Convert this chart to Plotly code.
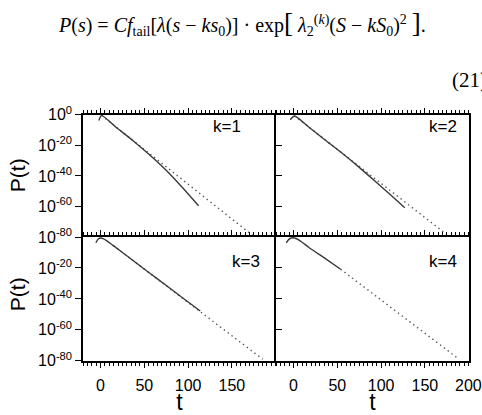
import plotly.graph_objects as go

# ---- data (t, log10 P) ----
t_k1 = [-1.9, 1.1, 18.0, 36.8, 55.6, 74.4, 93.2, 112.0]
logP_k1 = [-3.7, -0.4, -8.3, -16.8, -26.0, -36.0, -47.4, -59.5]
t_k1_fit = [1.1, 176.0]
logP_k1_fit = [-0.4, -80.0]

t_k2 = [-3.8, 1.1, 18.0, 36.8, 55.6, 74.4, 93.2, 112.0, 127.1]
logP_k2 = [-3.3, -0.8, -8.3, -16.8, -25.2, -34.1, -43.5, -53.0, -60.9]
t_k2_fit = [1.1, 177.8]
logP_k2_fit = [-0.8, -79.6]

t_k3 = [-5.3, -2.6, 0.0, 3.0, 6.8, 14.3, 36.8, 55.6, 74.4, 93.2, 113.9]
logP_k3 = [-3.7, -1.2, -0.6, -1.0, -2.3, -5.4, -15.0, -23.1, -31.0, -39.1, -47.8]
t_k3_fit = [14.3, 185.3]
logP_k3_fit = [-5.4, -79.0]

t_k4 = [-8.3, -5.3, -2.6, 1.1, 6.8, 18.0, 36.8, 53.8]
logP_k4 = [-3.7, -1.5, -0.6, -0.6, -2.1, -6.9, -14.1, -20.8]
t_k4_fit = [53.8, 189.1]
logP_k4_fit = [-20.8, -79.0]

panel_labels = ["k=1", "k=2", "k=3", "k=4"]
x_ticks = [0, 50, 100, 150, 200]
x_ticktext = ["0", "50", "100", "150", ""]
edge_tick_label = "200"
x_minor = list(range(-20, 201, 5))
y_exps_top = [0, -20, -40, -60, -80]
y_exps_bottom = [-20, -40, -60, -80]

W, H = 482, 415
def px(x):
    return x / W
def py(y):
    return 1 - y / H

xl = [px(83), px(276)]
xr = [px(276), px(469)]
yt = [py(237.5), py(109)]
yb = [py(367.5), py(237.5)]

solid_col = "#3a3a3a"
dot_col = "#555555"

fig = go.Figure()
series = [
    (t_k1, logP_k1, t_k1_fit, logP_k1_fit, "x", "y"),
    (t_k2, logP_k2, t_k2_fit, logP_k2_fit, "x2", "y2"),
    (t_k3, logP_k3, t_k3_fit, logP_k3_fit, "x3", "y3"),
    (t_k4, logP_k4, t_k4_fit, logP_k4_fit, "x4", "y4"),
]
for t, lp, tf, lpf, xa, ya in series:
    fig.add_trace(go.Scatter(x=tf, y=[10.0 ** v for v in lpf], mode="lines",
                             line=dict(color=dot_col, width=1.4, dash="1.4px,3.4px"),
                             xaxis=xa, yaxis=ya, hoverinfo="skip", cliponaxis=False))
    fig.add_trace(go.Scatter(x=t, y=[10.0 ** v for v in lp], mode="lines",
                             line=dict(color=solid_col, width=1.4, shape="spline", smoothing=0.6),
                             xaxis=xa, yaxis=ya, hoverinfo="skip", cliponaxis=False))

tickfont = dict(family="Liberation Sans, Arial", size=16, color="black")
XR = [-20, 200.4]

def xaxis(domain, anchor, side, labels, mirror, title=None):
    d = dict(domain=domain, anchor=anchor, side=side, range=XR,
             showline=True, linecolor="black", linewidth=1.5, mirror=mirror,
             ticks="outside", ticklen=5, tickwidth=1.2, tickcolor="black",
             tickmode="array", tickvals=x_ticks, ticktext=x_ticktext,
             showticklabels=labels, tickfont=tickfont, ticklabelstandoff=4,
             minor=dict(tickmode="array", tickvals=x_minor, ticks="outside",
                        ticklen=3, tickwidth=1, tickcolor="black", showgrid=False),
             showgrid=False, zeroline=False, fixedrange=True)
    if title:
        d["title"] = dict(text=title, standoff=0,
                          font=dict(family="Liberation Sans, Arial", size=23, color="black"))
    return d

def yaxis(domain, anchor, exps, labels, ticks, mirror):
    return dict(domain=domain, anchor=anchor, type="log", range=[-80, 0],
                showline=True, linecolor="black", linewidth=1.5, mirror=mirror,
                ticks=ticks, ticklen=6, tickwidth=1.2, tickcolor="black",
                tickmode="array", tickvals=[10.0 ** e for e in exps],
                ticktext=["10<sup>%d</sup>" % e for e in exps],
                showticklabels=labels, tickfont=tickfont,
                showgrid=False, zeroline=False, fixedrange=True)

fig.update_layout(
    width=W, height=H, margin=dict(l=0, r=0, t=0, b=0),
    paper_bgcolor="white", plot_bgcolor="white", showlegend=False,
    font=dict(family="Liberation Sans, Arial", color="black"),
    xaxis=xaxis(xl, "y", "top", False, False),
    xaxis2=xaxis(xr, "y2", "top", False, False),
    xaxis3=xaxis(xl, "y3", "bottom", True, "ticks", "t"),
    xaxis4=xaxis(xr, "y4", "bottom", True, "ticks", "t"),
    yaxis=yaxis(yt, "x", y_exps_top, True, "outside", False),
    yaxis2=yaxis(yt, "x2", y_exps_top, False, "inside", True),
    yaxis3=yaxis(yb, "x3", y_exps_bottom, True, "outside", False),
    yaxis4=yaxis(yb, "x4", y_exps_bottom, False, "inside", True),
)

ann = []
label_pos = [(226.5, 121), (443, 121.5), (246, 263), (443, 263)]
for txt, (ax_, ay_) in zip(panel_labels, label_pos):
    ann.append(dict(text=txt, x=px(ax_), y=py(ay_), xref="paper", yref="paper",
                    showarrow=False, xanchor="center", yanchor="middle",
                    font=dict(family="Liberation Sans, Arial", size=17)))
for yy in (173, 298):
    ann.append(dict(text="P(t)", x=px(17.5), y=py(yy), xref="paper", yref="paper",
                    showarrow=False, textangle=-90, xanchor="center", yanchor="middle",
                    font=dict(family="Liberation Sans, Arial", size=21)))
# "200" tick label of the right panel sits on the figure's right edge
ann.append(dict(text=edge_tick_label, x=200, xref="x4", y=py(393), yref="paper",
                showarrow=False, xanchor="center", yanchor="middle",
                font=tickfont))

big = '<span style="font-size:27px">%s</span>'
eq = ("<i>P</i>(<i>s</i>) = <i>Cf</i><sub>tail</sub>[<i>λ</i>(<i>s</i> − <i>ks</i><sub>0</sub>)] · exp"
      + big % "[" + " <i>λ</i><sub>2</sub><sup>(<i>k</i>)</sup>(<i>S</i> − <i>kS</i><sub>0</sub>)<sup>2</sup> "
      + big % "]" + ".")
ann.append(dict(text=eq, x=px(242), y=py(13), xref="paper", yref="paper",
                showarrow=False, xanchor="center", yanchor="middle",
                font=dict(family="Liberation Serif, Times New Roman", size=20)))
ann.append(dict(text="(21)", x=px(450), y=py(72), xref="paper", yref="paper",
                showarrow=False, xanchor="left", yanchor="middle",
                font=dict(family="Liberation Serif, Times New Roman", size=21)))
fig.update_layout(annotations=ann)

fig.write_html("out.html")
